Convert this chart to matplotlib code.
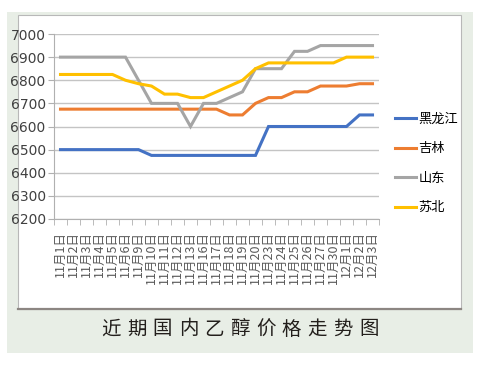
import matplotlib.pyplot as plt
from matplotlib.patches import Rectangle
from matplotlib.lines import Line2D

plt.rcParams['font.family'] = ['Noto Sans CJK SC', 'DejaVu Sans']

W, H = 485, 369

dates = ['11月1日', '11月2日', '11月3日', '11月4日', '11月5日', '11月6日',
         '11月9日', '11月10日', '11月11日', '11月12日', '11月13日', '11月16日',
         '11月17日', '11月18日', '11月19日', '11月20日', '11月23日', '11月24日',
         '11月25日', '11月26日', '11月27日', '11月30日', '12月1日', '12月2日',
         '12月3日']

heilongjiang = [6500, 6500, 6500, 6500, 6500, 6500, 6500, 6475, 6475, 6475,
                6475, 6475, 6475, 6475, 6475, 6475, 6600, 6600, 6600, 6600,
                6600, 6600, 6600, 6650, 6650]
jilin = [6675, 6675, 6675, 6675, 6675, 6675, 6675, 6675, 6675, 6675,
         6675, 6675, 6675, 6650, 6650, 6700, 6725, 6725, 6750, 6750,
         6775, 6775, 6775, 6785, 6785]
shandong = [6900, 6900, 6900, 6900, 6900, 6900, 6800, 6700, 6700, 6700,
            6600, 6700, 6700, 6725, 6750, 6850, 6850, 6850, 6925, 6925,
            6950, 6950, 6950, 6950, 6950]
subei = [6825, 6825, 6825, 6825, 6825, 6800, 6785, 6775, 6740, 6740,
         6725, 6725, 6750, 6775, 6800, 6850, 6875, 6875, 6875, 6875,
         6875, 6875, 6900, 6900, 6900]

series = [('黑龙江', heilongjiang, '#4472C4'),
          ('吉林', jilin, '#ED7D31'),
          ('山东', shandong, '#A5A5A5'),
          ('苏北', subei, '#FFC000')]

title = '近期国内乙醇价格走势图'

fig = plt.figure(figsize=(W / 100, H / 100), dpi=100)

# outer green card and white chart panel
fig.patches.append(Rectangle((7 / W, 1 - 353 / H), 466 / W, 341 / H,
                             transform=fig.transFigure, facecolor='#e8eee6',
                             edgecolor='none', zorder=0))
fig.patches.append(Rectangle((18 / W, 1 - 309 / H), 443 / W, 294 / H,
                             transform=fig.transFigure, facecolor='white',
                             edgecolor='#b8b8b8', lw=0.8, zorder=1))
fig.lines.append(Line2D([18 / W, 461 / W], [1 - 309 / H, 1 - 309 / H],
                        transform=fig.transFigure, color='#8c8682', lw=1.6,
                        zorder=2))

ax = fig.add_axes([54 / W, 1 - 219 / H, 325 / W, 185 / H])
ax.set_zorder(5)
ax.set_facecolor('none')

x = list(range(len(dates)))
for name, vals, col in series:
    ax.plot(x, vals, color=col, lw=2.2, label=name, solid_joinstyle='miter')

ax.set_xlim(-0.5, len(dates) - 0.5)
ax.set_ylim(6200, 7000)
ax.set_yticks(range(6200, 7001, 100))
ax.grid(axis='y', color='#c4c4c4', lw=1.0)
ax.set_axisbelow(True)

for s in ['top', 'right']:
    ax.spines[s].set_visible(False)
ax.spines['left'].set_color('#b0b0b0')
ax.spines['bottom'].set_color('#b0b0b0')

ax.set_xticks(x)
ax.set_xticklabels(dates, rotation=90, fontsize=9, color='#595959')
ax.set_xticks([i - 0.5 for i in range(len(dates) + 1)], minor=True)
ax.tick_params(axis='x', which='major', length=0, pad=8.5)
ax.tick_params(axis='x', which='minor', length=4, color='#b0b0b0')
ax.tick_params(axis='y', length=4, color='#b0b0b0', pad=2)
for lab in ax.get_yticklabels():
    lab.set_family(['Liberation Sans Narrow', 'DejaVu Sans'])
    lab.set_fontsize(10)
    lab.set_color('#404040')

leg = ax.legend(loc='center left', bbox_to_anchor=(1.0, 0.30), frameon=False,
                fontsize=9.5, handlelength=1.6, handletextpad=0.2,
                labelspacing=1.25, borderaxespad=0.8)

# spaced title under the chart
x0, x1 = 111 / W, 369 / W
for i, ch in enumerate(title):
    fig.text(x0 + (x1 - x0) * i / (len(title) - 1), 1 - 329 / H, ch,
             ha='center', va='center', fontsize=14, color='#231f1c',
             weight='medium', zorder=6)

fig.savefig('out.png', dpi=100)
